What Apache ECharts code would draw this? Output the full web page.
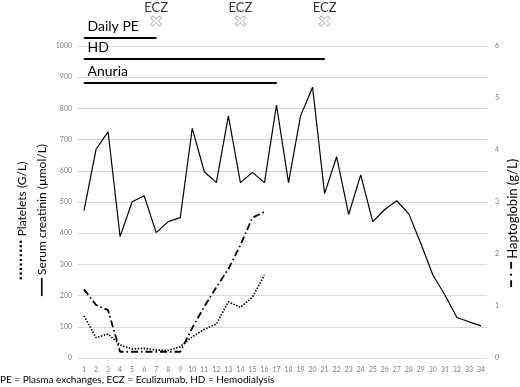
<!DOCTYPE html>
<html>
<head>
<meta charset="utf-8">
<script src="https://cdn.jsdelivr.net/npm/echarts@6/dist/echarts.min.js"></script>
<style>
  html, body { margin: 0; padding: 0; background: #fff; }
  #chart { width: 520px; height: 387px; }
</style>
</head>
<body>
<div id="chart"></div>
<script>
// days after admission
const days = ["1", "2", "3", "4", "5", "6", "7", "8", "9", "10", "11", "12", "13", "14", "15", "16", "17",
  "18", "19", "20", "21", "22", "23", "24", "25", "26", "27", "28", "29", "30", "31", "32", "33", "34"];

// serum creatinin (µmol/L), left axis
const creatinin = [472, 669, 725, 389, 501, 520, 402, 437, 450, 736, 597, 562, 776, 562, 595, 562, 811,
  562, 776, 868, 527, 645, 460, 587, 437, 476, 504, 462, 367, 266, 202, 130, 116, 103];

// platelets (G/L), left axis
const platelets = [135, 65, 77, 42, 29, 31, 26, 24, 36, 68, 92, 109, 180, 162, 195, 266];

// haptoglobin (g/L), right axis
const haptoglobin = [1.32, 1.02, 0.92, 0.12, 0.12, 0.12, 0.12, 0.12, 0.12, 0.58, 0.99, 1.36, 1.71, 2.17, 2.7, 2.81];

// treatment periods (first day, last day)
const treatments = ["Daily PE", "HD", "Anuria"];
const treatmentStart = [1, 1, 1];
const treatmentEnd = [7, 21, 17];

// eculizumab doses
const eczDays = [7, 14, 21];

const font = "Lato";
const tickStyle = { fontSize: 7, color: "#7f7f7f", fontFamily: font };
const lanes = [62, 41, 17]; // height of each treatment bar in the top strip

const chart = echarts.init(document.getElementById("chart"), null, { renderer: "canvas" });

const treatmentSeries = treatments.map((name, i) => ({
  name: name,
  type: "line",
  xAxisIndex: 1,
  yAxisIndex: 3,
  symbol: "circle",
  symbolSize: 1,
  itemStyle: { color: "#000" },
  lineStyle: { color: "#000", width: 2 },
  data: [
    {
      value: [treatmentStart[i] - 1, lanes[i]],
      label: {
        show: true,
        formatter: name,
        position: [4, -18],
        fontSize: 14,
        color: "#000",
        fontFamily: font,
      },
    },
    [treatmentEnd[i] - 1, lanes[i]],
  ],
}));

const option = {
  animation: false,
  title: {
    text: "PE = Plasma exchanges, ECZ = Eculizumab, HD = Hemodialysis",
    left: 0,
    top: 375,
    padding: 0,
    textStyle: { fontSize: 10, fontWeight: "normal", color: "#000", fontFamily: font },
  },
  grid: [
    { left: 78, right: 33, top: 46, bottom: 29, outerBoundsMode: "none" },
    { left: 78, right: 33, top: 0, height: 100, outerBoundsMode: "none" },
  ],
  xAxis: [
    {
      gridIndex: 0,
      type: "category",
      data: days,
      axisTick: { show: false },
      axisLine: { lineStyle: { color: "#d9d9d9" } },
      axisLabel: Object.assign({ margin: 8, interval: 0 }, tickStyle),
    },
    {
      gridIndex: 1,
      type: "category",
      data: days,
      show: false,
    },
  ],
  yAxis: [
    {
      gridIndex: 0,
      type: "value",
      position: "left",
      min: 0,
      max: 1000,
      interval: 100,
      axisLabel: Object.assign({ margin: 6, formatter: (v) => String(v) }, tickStyle),
      splitLine: { lineStyle: { color: "#d9d9d9" } },
      name: "{m|━━━} Serum creatinin (µmol/L){s| }",
      nameLocation: "middle",
      nameRotate: 90,
      nameGap: 30,
      nameMoveOverlap: false,
      nameTextStyle: {
        fontSize: 12,
        color: "#000",
        fontFamily: font,
        rich: {
          m: { fontSize: 10, color: "#000", fontFamily: "DejaVu Sans" },
          s: { width: 36 },
        },
      },
    },
    {
      gridIndex: 0,
      type: "value",
      position: "right",
      min: 0,
      max: 6,
      interval: 1,
      axisLabel: Object.assign({ margin: 8 }, tickStyle),
      splitLine: { show: false },
      name: "{m|━ · ━} Haptoglobin (g/L){s| }",
      nameLocation: "middle",
      nameRotate: 90,
      nameGap: 19,
      nameMoveOverlap: false,
      nameTextStyle: {
        fontSize: 13,
        color: "#000",
        fontFamily: font,
        rich: {
          m: { fontSize: 11, color: "#000", fontFamily: "DejaVu Sans", fontWeight: "bold" },
          s: { width: 42 },
        },
      },
    },
    {
      gridIndex: 0,
      type: "value",
      position: "left",
      min: 0,
      max: 1000,
      axisLabel: { show: false },
      axisLine: { show: false },
      axisTick: { show: false },
      splitLine: { show: false },
      name: "{m|·········} Platelets (G/L){s| }",
      nameLocation: "middle",
      nameRotate: 90,
      nameGap: 50,
      nameMoveOverlap: false,
      nameTextStyle: {
        fontSize: 12,
        color: "#000",
        fontFamily: font,
        rich: {
          m: { fontSize: 12, color: "#000", fontFamily: "DejaVu Sans", fontWeight: "bold" },
          s: { width: 38 },
        },
      },
    },
    {
      gridIndex: 1,
      type: "value",
      min: 0,
      max: 100,
      show: false,
    },
  ],
  series: [
    {
      name: "Serum creatinin",
      type: "line",
      data: creatinin,
      yAxisIndex: 0,
      symbol: "none",
      lineStyle: { color: "#000", width: 1.2 },
    },
    {
      name: "Platelets",
      type: "line",
      data: platelets,
      yAxisIndex: 0,
      symbol: "none",
      lineStyle: { color: "#000", width: 1.6, type: [1.5, 1.5] },
    },
    {
      name: "Haptoglobin",
      type: "line",
      data: haptoglobin,
      yAxisIndex: 1,
      symbol: "none",
      lineStyle: { color: "#000", width: 1.8, type: [7, 3, 1.5, 3] },
    },
    ...treatmentSeries,
    {
      name: "ECZ",
      type: "scatter",
      xAxisIndex: 1,
      yAxisIndex: 3,
      symbol: "path://M0,2 L2,0 L5,3 L8,0 L10,2 L7,5 L10,8 L8,10 L5,7 L2,10 L0,8 L3,5 Z",
      symbolSize: [11, 10],
      itemStyle: { color: "#fff", borderColor: "#a6a6a6", borderWidth: 1 },
      label: {
        show: true,
        position: "top",
        distance: 1,
        formatter: "ECZ",
        fontSize: 13,
        color: "#000",
        fontFamily: font,
      },
      data: eczDays.map((d) => [d - 1, 79]),
    },
  ],
};

chart.setOption(option);
</script>
</body>
</html>
